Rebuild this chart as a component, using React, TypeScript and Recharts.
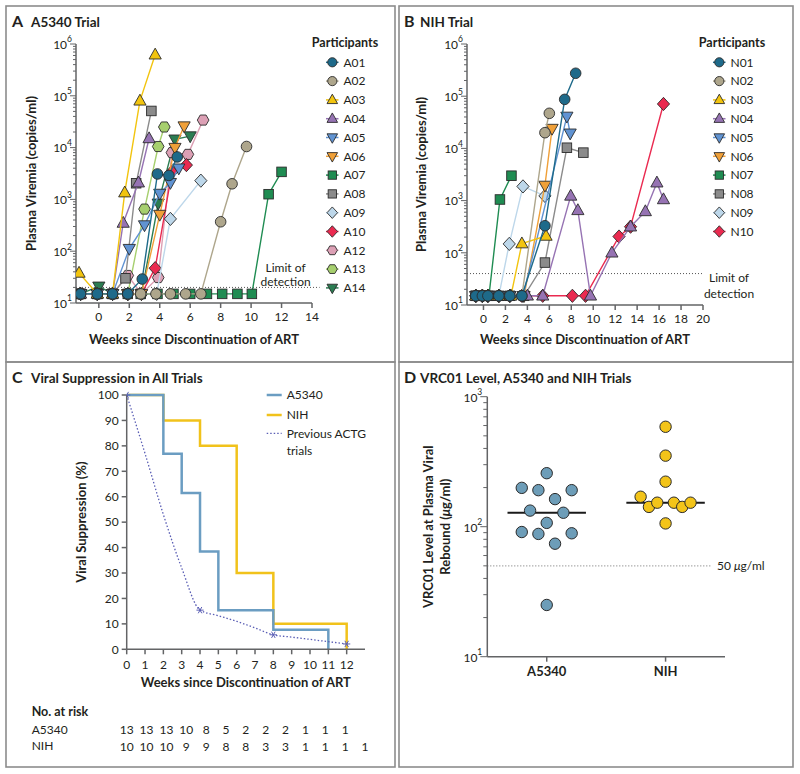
import React from 'react'
import {
  ScatterChart, Scatter, LineChart, Line, XAxis, YAxis, ReferenceLine, Legend, Label,
} from 'recharts'

const FONT = 'Lato, "Open Sans", Arial, sans-serif'
const INK = '#231f20'
const AXIS = '#636466'
const EDGE = '#2b2b2b'

// ---- Panel A: A5340 participants, [week, copies/ml]
const aNames = ['A01', 'A02', 'A03', 'A04', 'A05', 'A06', 'A07', 'A08', 'A09', 'A10', 'A12', 'A13', 'A14']
const a01 = [[-1.2, 15], [-0.1, 15], [0.9, 15], [1.9, 15], [2.85, 29], [3.85, 3100], [4.6, 2900], [5.15, 6600]]
const a02 = [[-1.2, 15], [-0.1, 15], [0.9, 15], [1.9, 15], [2.75, 15], [3.75, 15], [4.7, 15], [5.7, 15], [6.7, 15], [8.0, 370], [8.75, 2000], [9.7, 10500]]
const a03 = [[-1.3, 38], [-0.1, 15], [0.9, 15], [1.7, 1350], [2.7, 80000], [3.7, 620000]]
const a04 = [[-1.2, 15], [-0.1, 15], [0.9, 15], [1.6, 350], [2.6, 2100], [3.3, 15000]]
const a05 = [[-1.2, 15], [-0.1, 15], [0.9, 15], [2.0, 112], [3.0, 320], [4.0, 1300], [4.7, 2100], [5.25, 4000]]
const a06 = [[-1.2, 15], [-0.1, 15], [0.9, 15], [1.9, 15], [2.8, 15], [4.0, 510], [5.0, 10000], [5.6, 26000]]
const a07 = [[-1.2, 15], [-0.1, 15], [0.9, 15], [1.9, 15], [2.75, 15], [3.85, 15], [4.9, 15], [6.0, 15], [7.1, 15], [8.1, 15], [9.1, 15], [10.05, 15], [11.15, 1260], [12.0, 3400]]
const a08 = [[-1.2, 15], [-0.1, 15], [0.9, 15], [1.75, 30], [2.45, 2050], [3.45, 51000]]
const a09 = [[-1.2, 15], [-0.1, 15], [0.9, 15], [1.9, 15], [2.8, 15], [3.8, 15], [4.7, 420], [6.7, 2300]]
const a10 = [[-1.2, 15], [-0.1, 15], [0.9, 15], [1.9, 15], [2.8, 15], [3.7, 47], [4.8, 3400], [5.75, 4600]]
const a12 = [[-1.2, 15], [-0.1, 15], [0.9, 15], [1.9, 34], [2.8, 15], [3.9, 31], [4.8, 8000], [5.85, 7400], [6.85, 34000]]
const a13 = [[-1.2, 15], [-0.1, 15], [0.9, 15], [1.9, 15], [3.0, 650], [3.9, 10500], [4.3, 25000]]
const a14 = [[-1.2, 15], [0, 21], [0.9, 15], [1.9, 15], [2.8, 15], [3.9, 840], [5.0, 14500], [6.0, 16700]]
const aSeries = [a01, a02, a03, a04, a05, a06, a07, a08, a09, a10, a12, a13, a14]
const aLimit = 20

// ---- Panel B: NIH participants
const nNames = ['N01', 'N02', 'N03', 'N04', 'N05', 'N06', 'N07', 'N08', 'N09', 'N10']
const n01 = [[-0.7, 15], [-0.1, 15], [0.4, 15], [1.4, 15], [2.4, 15], [3.5, 15], [5.6, 330], [7.4, 87000], [8.4, 275000]]
const n02 = [[-0.7, 15], [-0.1, 15], [0.4, 15], [1.4, 15], [2.4, 15], [3.5, 15], [5.6, 20000], [6.0, 47000]]
const n03 = [[-0.7, 15], [-0.1, 15], [0.4, 15], [1.4, 15], [2.5, 15], [3.5, 150], [5.7, 210]]
const n04 = [[-0.7, 15], [-0.1, 15], [0.4, 15], [1.4, 15], [2.4, 15], [4.0, 15], [5.4, 15], [7.95, 1230], [8.6, 650], [9.75, 15], [11.7, 100], [13.4, 316], [14.75, 620], [15.8, 2200], [16.4, 1050]]
const n05 = [[-0.7, 15], [-0.1, 15], [0.4, 15], [1.4, 15], [2.4, 15], [3.6, 15], [7.6, 41000], [7.9, 19500]]
const n06 = [[-0.7, 15], [-0.1, 15], [0.4, 15], [1.4, 15], [2.4, 15], [3.7, 15], [5.6, 1950], [6.25, 24000]]
const n07 = [[-0.7, 15], [-0.1, 15], [0.5, 15], [1.5, 1050], [2.55, 3000]]
const n08 = [[-0.7, 15], [-0.1, 15], [0.4, 15], [1.4, 15], [2.4, 15], [3.7, 15], [5.6, 65], [7.6, 10300], [9.1, 8300]]
const n09 = [[-0.7, 15], [-0.1, 15], [0.4, 15], [1.4, 15], [2.35, 148], [3.6, 1870], [5.6, 1230]]
const n10 = [[-0.7, 15], [-0.1, 15], [0.4, 15], [1.4, 15], [2.4, 15], [3.5, 15], [5.4, 15], [8.1, 15], [9.3, 15], [12.35, 205], [13.4, 316], [16.4, 71000]]
const nSeries = [n01, n02, n03, n04, n05, n06, n07, n08, n09, n10]
const nLimit = 40

// colours / marker kinds, shared by both participant panels
const palette = ['#1e6a8a', '#aea68c', '#f2c40f', '#9673b3', '#6093d2', '#f0a038', '#1f8c52', '#8b8b8b', '#bdd7ea', '#ea2a50', '#dca0b5', '#a6cf6e', '#2b7d52']
const kinds = ['circle', 'circle', 'triangle', 'triangle', 'down', 'down', 'square', 'square', 'diamond', 'diamond', 'hexagon', 'hexagon', 'down']

// ---- Panel C: Kaplan-Meier
const weeks = [0, 1, 2, 3, 4, 5, 6, 7, 8, 9, 10, 11, 12]
const a5340Suppressed = [100, 100, 76.9, 61.5, 38.5, 15.4, 15.4, 15.4, 7.7, 7.7, 7.7, 0, null]
const nihSuppressed = [100, 100, 90, 90, 80, 80, 30, 30, 10, 10, 10, 10, 0]
const actgSuppressed = [100, 77, 53, 32, 15.4, 13.2, 11, 8.4, 5.7, 4.8, 3.9, 3.0, 2.1]
const actgReported = [0, 4, 8, 12]
const a5340AtRisk = [13, 13, 13, 10, 8, 5, 2, 2, 2, 1, 1, 1]
const nihAtRisk = [10, 10, 10, 9, 9, 8, 8, 3, 3, 1, 1, 1, 1]

// ---- Panel D: VRC01 level at rebound
const vrcGroups = ['A5340', 'NIH']
const a5340Vrc01 = [258, 199, 191, 191, 163, 133, 128, 107, 91, 88, 89, 74, 25]
const a5340Spread = [0, -3, -1, 3, 1, -2, 2, 0, -3, -1, 3, 1, 0]
const nihVrc01 = [587, 352, 222, 170, 142, 153, 153, 142, 153, 106]
const nihSpread = [0, 0, 0, -3, -2, -1, 1, 2, 3, 0]
const vrcThreshold = 50

function logTicks(lo: number, hi: number) {
  const t: number[] = []
  for (let e = lo; e < hi; e++) for (let m = 1; m < 10; m++) t.push(m * 10 ** e)
  t.push(10 ** hi)
  return t
}

function median(v: number[]) {
  const s = [...v].sort((a, b) => a - b)
  const h = Math.floor(s.length / 2)
  return s.length % 2 ? s[h] : (s[h - 1] + s[h]) / 2
}

function LogTick({ x, y, payload, major = 6, minor = 3, gap = 4 }: any) {
  const e = Math.log10(payload.value)
  const isMajor = Math.abs(e - Math.round(e)) < 1e-9
  return (
    <g>
      <line x1={x - (isMajor ? major : minor)} x2={x} y1={y} y2={y} stroke={AXIS} strokeWidth={1} />
      {isMajor && (
        <text x={x - gap} y={y} textAnchor="end" fontSize={12} fill={INK} fontFamily={FONT}>
          <tspan dy="0.4em">10</tspan>
          <tspan dy="-0.75em" fontSize={8.5}>{Math.round(e)}</tspan>
        </text>
      )}
    </g>
  )
}

function Marker({ kind, cx, cy, fill, r = 5.3 }: any) {
  const common = { fill, stroke: EDGE, strokeWidth: 0.9 }
  if (kind === 'circle') return <circle cx={cx} cy={cy} r={r} {...common} />
  if (kind === 'square') return <rect x={cx - r * 0.9} y={cy - r * 0.9} width={r * 1.8} height={r * 1.8} {...common} />
  let pts: number[][]
  if (kind === 'triangle') pts = [[0, -1.25], [1.15, 0.8], [-1.15, 0.8]]
  else if (kind === 'down') pts = [[0, 1.25], [1.15, -0.8], [-1.15, -0.8]]
  else if (kind === 'diamond') pts = [[0, -1.25], [1.15, 0], [0, 1.25], [-1.15, 0]]
  else pts = [0, 60, 120, 180, 240, 300].map((a) => [1.1 * Math.cos((a * Math.PI) / 180), 1.1 * Math.sin((a * Math.PI) / 180)])
  return <polygon points={pts.map(([px, py]) => `${cx + px * r},${cy + py * r}`).join(' ')} {...common} />
}

function ParticipantLegend({ names }: any) {
  return (
    <svg width={80} height={270} style={{ display: 'block', overflow: 'visible' }}>
      <text x={30} y={14} textAnchor="middle" fontSize={12.5} fontWeight={700} fill={INK} fontFamily={FONT}>Participants</text>
      {names.map((n: string, i: number) => {
        const cy = 29.3 + i * 18.8
        return (
          <g key={n}>
            <line x1={11} x2={23.5} y1={cy} y2={cy} stroke={palette[i]} strokeWidth={1.5} />
            <Marker kind={kinds[i]} cx={17.3} cy={cy} fill={palette[i]} r={4.6} />
            <text x={28.5} y={cy} dy="0.35em" fontSize={12} fill={INK} fontFamily={FONT}>{n}</text>
          </g>
        )
      })}
    </svg>
  )
}

function LodLabelA({ viewBox }: any) {
  const cx = viewBox.x + viewBox.width - 34
  return (
    <g fontFamily={FONT} fontSize={12} fill={INK} textAnchor="middle">
      <text x={cx} y={viewBox.y - 20} dy="0.35em">Limit of</text>
      <text x={cx} y={viewBox.y - 6} dy="0.35em">detection</text>
    </g>
  )
}

function LodLabelB({ viewBox }: any) {
  const cx = viewBox.x + viewBox.width + 26
  return (
    <g fontFamily={FONT} fontSize={12} fill={INK} textAnchor="middle">
      <text x={cx} y={viewBox.y + 4} dy="0.35em">Limit of</text>
      <text x={cx} y={viewBox.y + 20} dy="0.35em">detection</text>
    </g>
  )
}

const viremiaTicks = logTicks(1, 6)

function ViremiaPanel({ names, series, xDomain, xTicks, margin, yAxisWidth, yTitleOffset, xTitleOffset, legendAt, lodLine }: any) {
  return (
    <ScatterChart width={400} height={362} margin={margin}>
      <XAxis
        type="number" dataKey="x" domain={xDomain} ticks={xTicks} interval={0} allowDataOverflow
        tickSize={5} tickMargin={4} height={50} stroke={AXIS} strokeWidth={1.5}
        tick={{ fontSize: 12, fill: INK, fontFamily: FONT }}
        label={{ value: 'Weeks since Discontinuation of ART', position: 'insideBottom', offset: xTitleOffset, fill: INK, fontSize: 13, fontWeight: 700, fontFamily: FONT }}
      />
      <YAxis
        type="number" dataKey="y" scale="log" domain={[10, 1e6]} allowDataOverflow ticks={viremiaTicks} interval={0}
        tick={<LogTick />} tickLine={false} tickSize={0} tickMargin={0} width={yAxisWidth} stroke={AXIS} strokeWidth={1.5}
        label={{ value: 'Plasma Viremia (copies/ml)', angle: -90, position: 'insideLeft', offset: yTitleOffset, style: { textAnchor: 'middle' }, fill: INK, fontSize: 13, fontWeight: 700, fontFamily: FONT }}
      />
      {lodLine}
      {series
        .map((pts: number[][], i: number) => (
          <Scatter
            key={names[i]}
            name={names[i]}
            data={pts.map(([x, y]) => ({ x, y }))}
            line={{ stroke: palette[i], strokeWidth: 1.4 }}
            lineType="joint"
            isAnimationActive={false}
            shape={(p: any) => <Marker kind={kinds[i]} cx={p.cx} cy={p.cy} fill={palette[i]} />}
          />
        ))
        .reverse()}
      <Legend
        layout="vertical" verticalAlign="middle" align="center"
        wrapperStyle={{ left: legendAt[0], top: legendAt[1], width: 80, height: 270 }}
        content={() => <ParticipantLegend names={names} />}
      />
    </ScatterChart>
  )
}

function RiskTick({ x, y, payload, counts, dy }: any) {
  const n = counts[payload.value]
  if (n === undefined) return <g />
  return (
    <text x={x} y={y + dy} dy="0.35em" textAnchor="middle" fontSize={12} fill={INK} fontFamily={FONT}>{n}</text>
  )
}

function ActgDot(props: any) {
  const { cx, cy, payload, index } = props
  if (!actgReported.includes(payload.week)) return <g key={index} />
  const s = 3.6
  return (
    <g key={index} stroke="#5b5fb5" strokeWidth={1}>
      <line x1={cx - s} y1={cy} x2={cx + s} y2={cy} />
      <line x1={cx - s * 0.5} y1={cy - s * 0.87} x2={cx + s * 0.5} y2={cy + s * 0.87} />
      <line x1={cx + s * 0.5} y1={cy - s * 0.87} x2={cx - s * 0.5} y2={cy + s * 0.87} />
    </g>
  )
}

function SuppressionLegend() {
  const t = { fontSize: 12, fill: INK, fontFamily: FONT }
  return (
    <svg width={130} height={80} style={{ display: 'block', overflow: 'visible' }}>
      <line x1={6.7} x2={21.7} y1={9} y2={9} stroke="#6b9dc2" strokeWidth={2.5} />
      <text x={26.7} y={9} dy="0.35em" {...t}>A5340</text>
      <line x1={6.7} x2={21.7} y1={29} y2={29} stroke="#f1c21b" strokeWidth={2.5} />
      <text x={26.7} y={29} dy="0.35em" {...t}>NIH</text>
      <line x1={6.7} x2={21.7} y1={47.3} y2={47.3} stroke="#5b5fb5" strokeWidth={1.3} strokeDasharray="1.5 2" />
      <text x={26.7} y={47.3} dy="0.35em" {...t}>Previous ACTG</text>
      <text x={26.7} y={64.7} dy="0.35em" {...t}>trials</text>
    </svg>
  )
}

const kmRows = weeks.map((w, i) => ({ week: w, a5340: a5340Suppressed[i], nih: nihSuppressed[i], actg: actgSuppressed[i] }))

function SuppressionPanel() {
  return (
    <LineChart width={400} height={412} data={kmRows} margin={{ top: 33, right: 35, bottom: 19.7, left: 66.7 }}>
      <XAxis
        type="number" dataKey="week" domain={[0, 13]} ticks={weeks} interval={0} allowDataOverflow
        tickSize={5} tickMargin={6} height={45} stroke={AXIS} strokeWidth={1.5}
        tick={{ fontSize: 12, fill: INK, fontFamily: FONT }}
        label={{ value: 'Weeks since Discontinuation of ART', position: 'insideBottom', offset: 7, fill: INK, fontSize: 13, fontWeight: 700, fontFamily: FONT }}
      />
      <XAxis
        xAxisId="riskA" type="number" domain={[0, 13]} ticks={weeks} interval={0} allowDataOverflow
        axisLine={false} tickLine={false} tickSize={0} tickMargin={0} height={40}
        tick={<RiskTick counts={a5340AtRisk} dy={35} />}
      />
      <XAxis
        xAxisId="riskN" type="number" domain={[0, 13]} ticks={weeks} interval={0} allowDataOverflow
        axisLine={false} tickLine={false} tickSize={0} tickMargin={0} height={20}
        tick={<RiskTick counts={nihAtRisk} dy={12} />}
      />
      <YAxis
        type="number" domain={[0, 100]} ticks={[0, 10, 20, 30, 40, 50, 60, 70, 80, 90, 100]} interval={0}
        tickSize={5} tickMargin={3} width={60} stroke={AXIS} strokeWidth={1.5}
        tick={{ fontSize: 12, fill: INK, fontFamily: FONT }}
        label={{ value: 'Viral Suppression (%)', angle: -90, position: 'insideLeft', offset: 15, style: { textAnchor: 'middle' }, fill: INK, fontSize: 13, fontWeight: 700, fontFamily: FONT }}
      />
      <Line type="stepAfter" dataKey="nih" stroke="#f1c21b" strokeWidth={2.5} dot={false} isAnimationActive={false} />
      <Line type="stepAfter" dataKey="a5340" stroke="#6b9dc2" strokeWidth={2.5} dot={false} isAnimationActive={false} />
      <Line type="monotone" dataKey="actg" stroke="#5b5fb5" strokeWidth={1.3} strokeDasharray="1.5 2" dot={ActgDot} isAnimationActive={false} />
      <Legend
        layout="vertical" verticalAlign="middle" align="center"
        wrapperStyle={{ left: 260, top: 24, width: 130, height: 80 }}
        content={() => <SuppressionLegend />}
      />
    </LineChart>
  )
}

function VrcAxisTitle({ viewBox }: any) {
  const cx = viewBox.x + 8
  const cy = viewBox.y + viewBox.height / 2
  return (
    <text transform={`rotate(-90 ${cx} ${cy})`} x={cx} y={cy} textAnchor="middle" fontSize={13} fontWeight={700} fill={INK} fontFamily={FONT}>
      <tspan x={cx} dy="-0.2em">VRC01 Level at Plasma Viral</tspan>
      <tspan x={cx} dy="1.3em">Rebound (<tspan fontStyle="italic">μ</tspan>g/ml)</tspan>
    </text>
  )
}

function ThresholdLabel({ viewBox }: any) {
  return (
    <text x={viewBox.x + viewBox.width + 5} y={viewBox.y} dy="0.35em" fontSize={12} fill={INK} fontFamily={FONT}>
      {vrcThreshold} <tspan fontStyle="italic">μ</tspan>g/ml
    </text>
  )
}

const vrcTicks = logTicks(1, 3)

function VrcPanel() {
  const groups = [
    { values: a5340Vrc01, spread: a5340Spread, color: '#6d9db8' },
    { values: nihVrc01, spread: nihSpread, color: '#f3c419' },
  ]
  return (
    <ScatterChart width={400} height={412} margin={{ top: 34.7, right: 75, bottom: 77.3, left: 27.3 }}>
      <XAxis
        type="number" dataKey="x" domain={[0, 2]} ticks={[0.5, 1.5]} interval={0}
        tickFormatter={(v: number) => vrcGroups[Math.floor(v)]}
        tickSize={5} tickMargin={5} height={40} stroke={AXIS} strokeWidth={1.5}
        tick={{ fontSize: 13, fontWeight: 700, fill: INK, fontFamily: FONT }}
      />
      <YAxis
        type="number" dataKey="y" scale="log" domain={[10, 1000]} allowDataOverflow ticks={vrcTicks} interval={0}
        tick={<LogTick major={7} minor={4} gap={5} />} tickLine={false} tickSize={0} tickMargin={0} width={60} stroke={AXIS} strokeWidth={1.5}
      >
        <Label content={<VrcAxisTitle />} />
      </YAxis>
      <ReferenceLine
        segment={[{ x: 0, y: vrcThreshold }, { x: 1.89, y: vrcThreshold }]}
        stroke="#8a8a8a" strokeWidth={1.2} strokeDasharray="1 2" ifOverflow="visible"
        label={<ThresholdLabel />}
      />
      {groups.map((g, gi) => (
        <Scatter
          key={vrcGroups[gi]}
          name={vrcGroups[gi]}
          data={g.values.map((v, i) => ({ x: gi + 0.5 + g.spread[i] * 0.07, y: v }))}
          isAnimationActive={false}
          shape={(p: any) => <circle cx={p.cx} cy={p.cy} r={5.7} fill={g.color} stroke={EDGE} strokeWidth={1} />}
        />
      ))}
      {groups.map((g, gi) => (
        <ReferenceLine
          key={'m' + gi}
          segment={[{ x: gi + 0.5 - 0.33, y: median(g.values) }, { x: gi + 0.5 + 0.33, y: median(g.values) }]}
          stroke="#1a1a1a" strokeWidth={2}
        />
      ))}
    </ScatterChart>
  )
}

export default function App() {
  const title = { fill: INK, fontFamily: FONT, fontWeight: 700 }
  const frame = { fill: 'none', stroke: '#8c8c8c', strokeWidth: 1.6 }
  return (
    <div style={{ position: 'absolute', left: 0, top: 0, width: 800, height: 774, background: '#fff', fontFamily: FONT }}>
      <svg width={800} height={774} style={{ position: 'absolute', left: 0, top: 0 }}>
        <rect x={6} y={6} width={389} height={356} {...frame} />
        <rect x={399} y={6} width={394} height={356} {...frame} />
        <rect x={6} y={362} width={389} height={405} {...frame} />
        <rect x={399} y={362} width={394} height={405} {...frame} />
        <text x={12} y={27} fontSize={16} {...title}>A</text>
        <text x={31} y={27} fontSize={13.5} {...title}>A5340 Trial</text>
        <text x={404} y={27} fontSize={16} {...title}>B</text>
        <text x={420} y={27} fontSize={13.5} {...title}>NIH Trial</text>
        <text x={12} y={383} fontSize={16} {...title}>C</text>
        <text x={31} y={383} fontSize={13.5} {...title}>Viral Suppression in All Trials</text>
        <text x={404} y={383} fontSize={16} {...title}>D</text>
        <text x={420} y={383} fontSize={13.5} {...title}>VRC01 Level, A5340 and NIH Trials</text>
        <text x={31.7} y={716} fontSize={12.5} {...title}>No. at risk</text>
        <text x={31.7} y={733.6} fontSize={12} fill={INK} fontFamily={FONT}>{vrcGroups[0]}</text>
        <text x={31.7} y={750.3} fontSize={12} fill={INK} fontFamily={FONT}>{vrcGroups[1]}</text>
      </svg>
      <div style={{ position: 'absolute', left: 0, top: 0 }}>
        <ViremiaPanel
          names={aNames} series={aSeries} xDomain={[-1.5, 14]} xTicks={[0, 2, 4, 6, 8, 10, 12, 14]}
          margin={{ top: 44, right: 88, bottom: 9, left: 16 }} yAxisWidth={60} yTitleOffset={15.7} xTitleOffset={9}
          legendAt={[315, 33]}
          lodLine={
            <ReferenceLine
              segment={[{ x: -1.5, y: aLimit }, { x: 14.5, y: aLimit }]} ifOverflow="visible"
              stroke="#555" strokeWidth={1} strokeDasharray="1 2" label={<LodLabelA />}
            />
          }
        />
      </div>
      <div style={{ position: 'absolute', left: 400, top: 0 }}>
        <ViremiaPanel
          names={nNames} series={nSeries} xDomain={[-1.5, 20]} xTicks={[0, 2, 4, 6, 8, 10, 12, 14, 16, 18, 20]}
          margin={{ top: 44, right: 97, bottom: 7, left: 12 }} yAxisWidth={55} yTitleOffset={9.7} xTitleOffset={11}
          legendAt={[302, 33]}
          lodLine={
            <ReferenceLine y={nLimit} stroke="#555" strokeWidth={1} strokeDasharray="1 2" label={<LodLabelB />} />
          }
        />
      </div>
      <div style={{ position: 'absolute', left: 0, top: 362 }}>
        <SuppressionPanel />
      </div>
      <div style={{ position: 'absolute', left: 400, top: 362 }}>
        <VrcPanel />
      </div>
    </div>
  )
}
